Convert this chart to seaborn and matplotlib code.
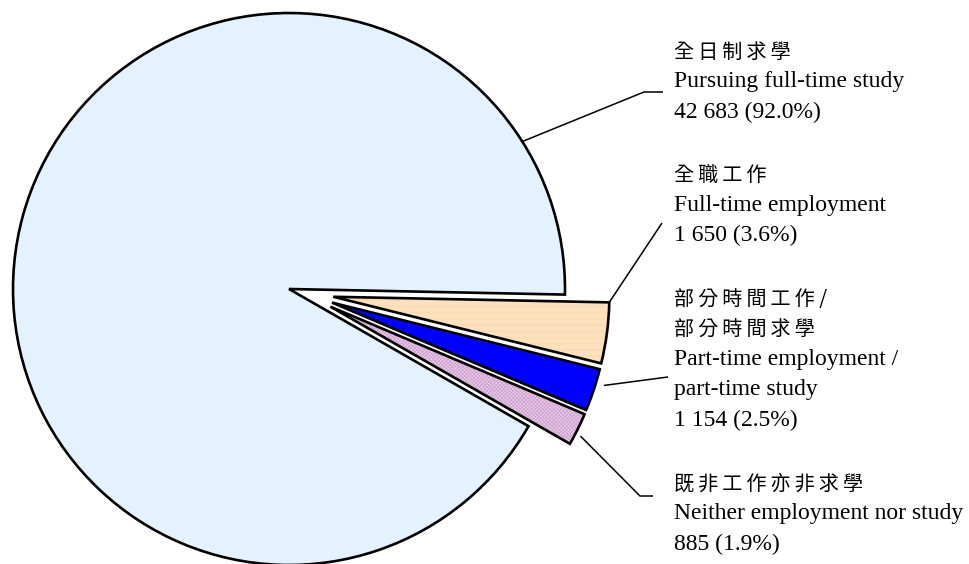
import matplotlib
matplotlib.use("Agg")
import matplotlib.pyplot as plt
import matplotlib.patches as mpatches
import numpy as np
import seaborn as sns

# ---- data ----
categories_zh = ["全日制求學", "全職工作", "部分時間工作 /\n部分時間求學", "既非工作亦非求學"]
categories_en = ["Pursuing full-time study", "Full-time employment",
                 "Part-time employment /\npart-time study", "Neither employment nor study"]
counts = [42683, 1650, 1154, 885]
count_labels = ["42 683", "1 650", "1 154", "885"]
percent_labels = ["92.0%", "3.6%", "2.5%", "1.9%"]

sns.set_theme(style="white")
plt.rcParams["font.family"] = ["Liberation Serif", "DejaVu Sans"]
plt.rcParams["hatch.linewidth"] = 0.6

W, H = 970, 564
fig = plt.figure(figsize=(W / 100, H / 100), dpi=100)
ax = fig.add_axes([0, 0, 1, 1])

def Y(y):
    return H - y

face_colors = ["#E4F1FF", "#FFF3E2", "#0000FF", "#E9CFE9"]
hatch_colors = [None, "#FAD8AA", None, "#CFA2CF"]
hatches = [None, "-" * 14, None, "x" * 9]
explode = [0, 45, 45, 45]
radius = 276
center = (289, Y(289))

wedges, _ = ax.pie(counts, explode=explode, startangle=-29.8, counterclock=False,
                   colors=face_colors, radius=radius, center=center,
                   wedgeprops=dict(edgecolor="none", linewidth=0))

# pull the exploded slices' directions slightly towards the group's bisector
small = wedges[1:]
group_mid = 0.5 * (min(w.theta1 for w in small) + max(w.theta2 for w in small))
for w, e in zip(small, explode[1:]):
    bis = 0.5 * (w.theta1 + w.theta2)
    phi = np.deg2rad(group_mid + 0.7 * (bis - group_mid))
    w.set_center((center[0] + e * np.cos(phi), center[1] + e * np.sin(phi)))

for w, hc, hp in zip(wedges, hatch_colors, hatches):
    if hp:
        ov = mpatches.Wedge(w.center, w.r, w.theta1, w.theta2, facecolor="none",
                            edgecolor=hc, linewidth=0, hatch=hp, zorder=1.1)
        ax.add_patch(ov)
    ol = mpatches.Wedge(w.center, w.r, w.theta1, w.theta2, facecolor="none",
                        edgecolor="black", linewidth=1.9, joinstyle="miter", zorder=1.2)
    ax.add_patch(ol)

ax.set_xlim(0, W)
ax.set_ylim(0, H)
ax.set_aspect("equal")
ax.axis("off")

# ---- leader lines ----
def pt(w, ang, rf=1.0):
    a = np.deg2rad(ang)
    return (w.center[0] + w.r * rf * np.cos(a), w.center[1] + w.r * rf * np.sin(a))

starts = [pt(wedges[0], 32.3), pt(wedges[1], wedges[1].theta2),
          pt(wedges[2], 0.5 * (wedges[2].theta1 + wedges[2].theta2) + 1.5, 1.03),
          pt(wedges[3], 0.5 * (wedges[3].theta1 + wedges[3].theta2) - 1.0, 1.02)]
bends = [[(644, 92), (663, 92)], [(662, 223)], [(668, 377)], [(640, 496), (653, 496)]]
for s, b in zip(starts, bends):
    xs = [s[0]] + [p[0] for p in b]
    ys = [s[1]] + [Y(p[1]) for p in b]
    ax.plot(xs, ys, color="black", linewidth=1.1, solid_capstyle="butt", zorder=3)

# ---- labels ----
def spaced(s):
    out = ""
    for i, ch in enumerate(s):
        out += ch
        if i < len(s) - 1 and ch != " " and s[i + 1] != " ":
            out += "\u2009"
    return out

tx = 674
first_line_y = [52, 175, 300, 484]
step = 30
cjk = ["Noto Sans CJK TC", "DejaVu Sans"]
serif = ["Liberation Serif", "DejaVu Sans"]
for zh, en, c, p, y0 in zip(categories_zh, categories_en, count_labels, percent_labels, first_line_y):
    lines = [(spaced(l), cjk) for l in zh.split("\n")] + \
            [(l, serif) for l in en.split("\n")] + \
            [(f"{c} ({p})", serif)]
    for i, (txt, fam) in enumerate(lines):
        ax.text(tx, Y(y0 + i * step), txt, family=fam,
                fontsize=14.5 if fam is cjk else 17, color="black",
                fontweight="light" if fam is cjk else "normal",
                ha="left", va="center")

fig.savefig("out.png", dpi=100)
